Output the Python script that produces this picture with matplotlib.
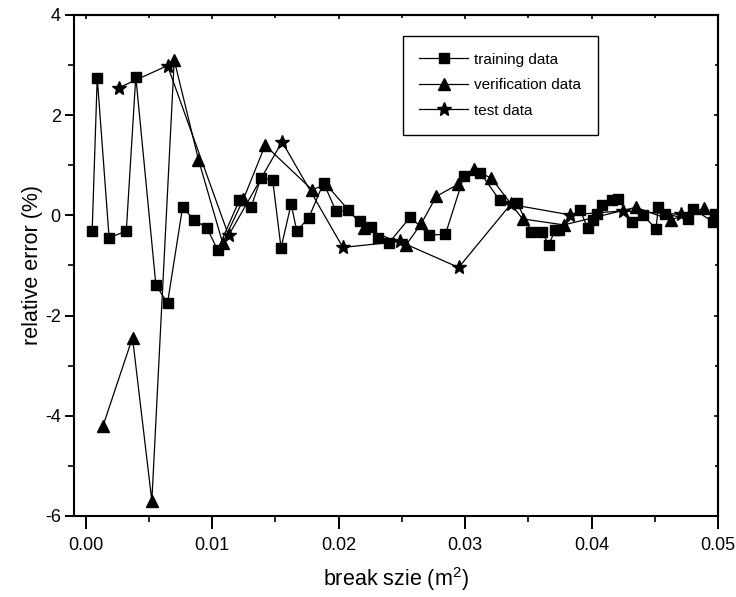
import matplotlib
matplotlib.use("Agg")
import matplotlib.pyplot as plt
from matplotlib.ticker import MultipleLocator, FormatStrFormatter

# training data
train_x = [0.0005, 0.0009, 0.00184, 0.0032, 0.00395, 0.00554, 0.00646, 0.00765,
           0.00857, 0.00958, 0.01042, 0.01214, 0.01307, 0.01386, 0.01478, 0.01544,
           0.01624, 0.01668, 0.01763, 0.0188, 0.0198, 0.02072, 0.02165, 0.02252,
           0.0231, 0.02397, 0.02567, 0.02714, 0.02844, 0.0299, 0.0312, 0.03274,
           0.03411, 0.03525, 0.0361, 0.03662, 0.0371, 0.03744, 0.03908, 0.0397,
           0.04013, 0.0404, 0.0408, 0.04159, 0.04212, 0.04318, 0.04405, 0.0451,
           0.04528, 0.04582, 0.04766, 0.04806, 0.04959, 0.04977]
train_y = [-0.31, 2.75, -0.45, -0.31, 2.77, -1.39, -1.75, 0.16,
           -0.09, -0.25, -0.69, 0.30, 0.17, 0.75, 0.70, -0.65,
           0.23, -0.31, -0.05, 0.65, 0.08, 0.10, -0.12, -0.23,
           -0.45, -0.55, -0.03, -0.39, -0.38, 0.78, 0.85, 0.30,
           0.25, -0.34, -0.34, -0.59, -0.30, -0.30, 0.11, -0.25,
           -0.09, 0.03, 0.20, 0.30, 0.33, -0.13, 0.01, -0.27,
           0.17, 0.03, -0.07, 0.13, -0.13, 0.03]

# verification data
verif_x = [0.00136, 0.00369, 0.00522, 0.00699, 0.00891, 0.01082, 0.01246, 0.01418,
           0.0179, 0.0190, 0.0220, 0.0253, 0.02654, 0.02772, 0.02944, 0.03068,
           0.03208, 0.03454, 0.03781, 0.04349, 0.04627, 0.04886]
verif_y = [-4.2, -2.44, -5.7, 3.1, 1.11, -0.55, 0.32, 1.40,
           0.51, 0.62, -0.25, -0.60, -0.16, 0.38, 0.62, 0.92,
           0.74, -0.07, -0.19, 0.16, -0.09, 0.14]

# test data
test_x = [0.00263, 0.00646, 0.01129, 0.01552, 0.02033, 0.02482, 0.02949,
          0.0336, 0.0383, 0.0425, 0.0471]
test_y = [2.55, 2.99, -0.40, 1.47, -0.64, -0.52, -1.04,
          0.22, 0.01, 0.09, 0.02]

plt.rcParams['font.family'] = ['Liberation Sans', 'DejaVu Sans']
plt.rcParams['axes.unicode_minus'] = False
plt.rcParams['mathtext.default'] = 'regular'

fig = plt.figure(figsize=(7.36, 5.97), dpi=100)
ax = fig.add_axes([0.1005, 0.1357, 0.875, 0.8392])

line_kw = dict(color='black', linewidth=0.9, markerfacecolor='black',
               markeredgecolor='black')
ax.plot(train_x, train_y, marker='s', markersize=7, label='training data', **line_kw)
ax.plot(verif_x, verif_y, marker='^', markersize=9, label='verification data', **line_kw)
ax.plot(test_x, test_y, marker='*', markersize=10, label='test data', **line_kw)

ax.set_xlim(-0.00094, 0.05)
ax.set_ylim(-6, 4)

ax.xaxis.set_major_locator(MultipleLocator(0.01))
ax.xaxis.set_minor_locator(MultipleLocator(0.005))
ax.xaxis.set_major_formatter(FormatStrFormatter('%.2f'))
ax.yaxis.set_major_locator(MultipleLocator(2))
ax.yaxis.set_minor_locator(MultipleLocator(1))

ax.tick_params(axis='x', which='major', direction='out', length=9, width=1.4,
               labelsize=13, pad=6)
ax.tick_params(axis='x', which='minor', direction='out', length=4.5, width=1.2)
ax.tick_params(axis='y', which='major', direction='out', length=6.5, width=1.4,
               labelsize=13, pad=3)
ax.tick_params(axis='y', which='minor', direction='out', length=4, width=1.2)

for sp in ax.spines.values():
    sp.set_linewidth(1.5)

# inward ticks on the top and right edges
top = ax.secondary_xaxis('top')
top.xaxis.set_major_locator(MultipleLocator(0.01))
top.xaxis.set_minor_locator(MultipleLocator(0.005))
top.tick_params(which='both', direction='in', labeltop=False, width=1.2)
top.tick_params(which='major', length=3)
top.tick_params(which='minor', length=2)
top.spines['top'].set_linewidth(1.5)

right = ax.secondary_yaxis('right')
right.yaxis.set_major_locator(MultipleLocator(2))
right.yaxis.set_minor_locator(MultipleLocator(1))
right.tick_params(which='both', direction='in', labelright=False, width=1.2)
right.tick_params(which='major', length=3)
right.tick_params(which='minor', length=2)
right.spines['right'].set_linewidth(1.5)

ax.set_xlabel('break szie (m$^2$)', fontsize=15.5, labelpad=8)
ax.set_ylabel('relative error (%)', fontsize=15.5, labelpad=1)

leg = ax.legend(loc='upper right', bbox_to_anchor=(0.814, 0.958), borderaxespad=0,
                fontsize=11, handlelength=3.2, handletextpad=0.4, frameon=True,
                fancybox=False, edgecolor='black', framealpha=1, borderpad=1.1,
                labelspacing=0.75)
leg.get_frame().set_linewidth(1.0)

fig.savefig('out.png', dpi=100)
